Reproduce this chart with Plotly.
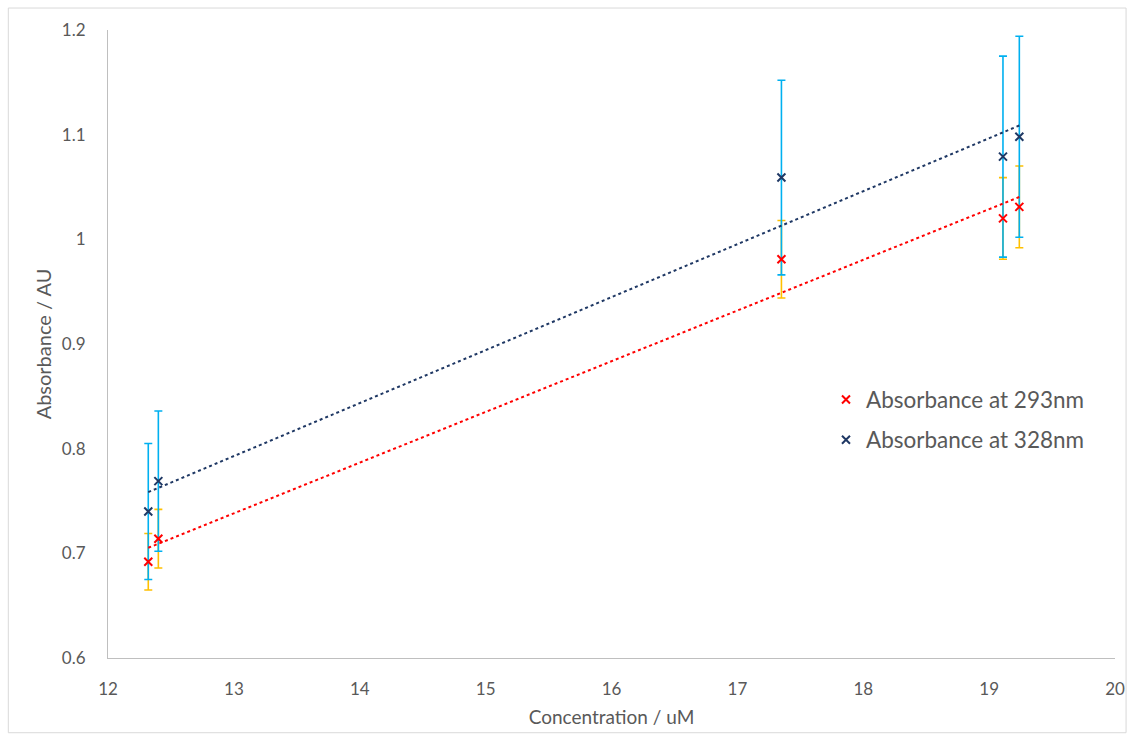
import numpy as np
import plotly.graph_objects as go

# Concentrations (uM) of the measured samples
concentration = [12.32, 12.40, 17.35, 19.11, 19.24]

# Mean absorbance and error-bar half widths at each wavelength
abs_293 = [0.692, 0.714, 0.981, 1.020, 1.031]
err_293 = [0.027, 0.028, 0.037, 0.039, 0.039]
abs_328 = [0.740, 0.769, 1.059, 1.079, 1.098]
err_328 = [0.065, 0.067, 0.093, 0.096, 0.096]

y_ticks = [0.6, 0.7, 0.8, 0.9, 1.0, 1.1, 1.2]
y_tick_labels = ["0.6", "0.7", "0.8", "0.9", "1", "1.1", "1.2"]
x_ticks = [12, 13, 14, 15, 16, 17, 18, 19, 20]

RED = "#FF0000"
NAVY = "#1F3864"
GOLD = "#FFC000"
CYAN = "#00B0F0"
FONT = "Lato, 'Open Sans', sans-serif"
GREY = "#595959"

fig = go.Figure()

# Error bars (drawn first so the markers sit on top)
for vals, errs, col in [(abs_293, err_293, GOLD), (abs_328, err_328, CYAN)]:
    fig.add_trace(go.Scatter(
        x=concentration, y=vals, mode="markers",
        marker=dict(size=1, color="rgba(0,0,0,0)"),
        error_y=dict(type="data", array=errs, visible=True,
                     color=col, thickness=1.6, width=4),
        showlegend=False, hoverinfo="skip"))

# Linear trendlines (least squares over each series)
xs = np.array([min(concentration), max(concentration)])
for vals, col in [(abs_293, RED), (abs_328, NAVY)]:
    slope, icpt = np.polyfit(concentration, vals, 1)
    fig.add_trace(go.Scatter(
        x=xs, y=slope * xs + icpt, mode="lines",
        line=dict(color=col, width=2, dash="dot"),
        showlegend=False, hoverinfo="skip"))

# Markers, each series in its own legend box so the rows sit apart
for vals, col, name, leg in [(abs_293, RED, "Absorbance at 293nm", "legend"),
                             (abs_328, NAVY, "Absorbance at 328nm", "legend2")]:
    fig.add_trace(go.Scatter(
        x=concentration, y=vals, mode="markers", name=name, legend=leg,
        marker=dict(symbol="x-thin", size=8, color=col,
                    line=dict(color=col, width=2))))

legend_style = dict(x=0.713, xanchor="left", yanchor="middle",
                    font=dict(size=22.5, color=GREY), itemsizing="trace",
                    bgcolor="rgba(0,0,0,0)")

fig.update_layout(
    width=1137, height=741,
    margin=dict(l=108, r=19, t=30, b=83),
    paper_bgcolor="white", plot_bgcolor="white",
    font=dict(family=FONT, color=GREY, size=17),
    legend=dict(y=0.411, **legend_style),
    legend2=dict(y=0.347, **legend_style),
    xaxis=dict(range=[12, 20], tickvals=x_ticks, showgrid=False,
               zeroline=False, showline=True, linecolor="#BFBFBF",
               linewidth=1, ticks="", ticklabelstandoff=16,
               tickfont=dict(size=17, color=GREY),
               title=dict(text="Concentration / uM",
                          font=dict(size=19, color=GREY), standoff=12)),
    yaxis=dict(range=[0.6, 1.2], tickvals=y_ticks, ticktext=y_tick_labels,
               showgrid=False, zeroline=False, showline=True,
               linecolor="#BFBFBF", linewidth=1, ticks="",
               ticklabelstandoff=18, tickfont=dict(size=17, color=GREY),
               title=dict(text="Absorbance / AU",
                          font=dict(size=20, color=GREY), standoff=4)),
    shapes=[dict(type="rect", xref="paper", yref="paper",
                 x0=-0.099, x1=1.011, y0=-0.119, y1=1.035,
                 line=dict(color="#D9D9D9", width=1), layer="below")],
)

fig.write_html("out.html")
